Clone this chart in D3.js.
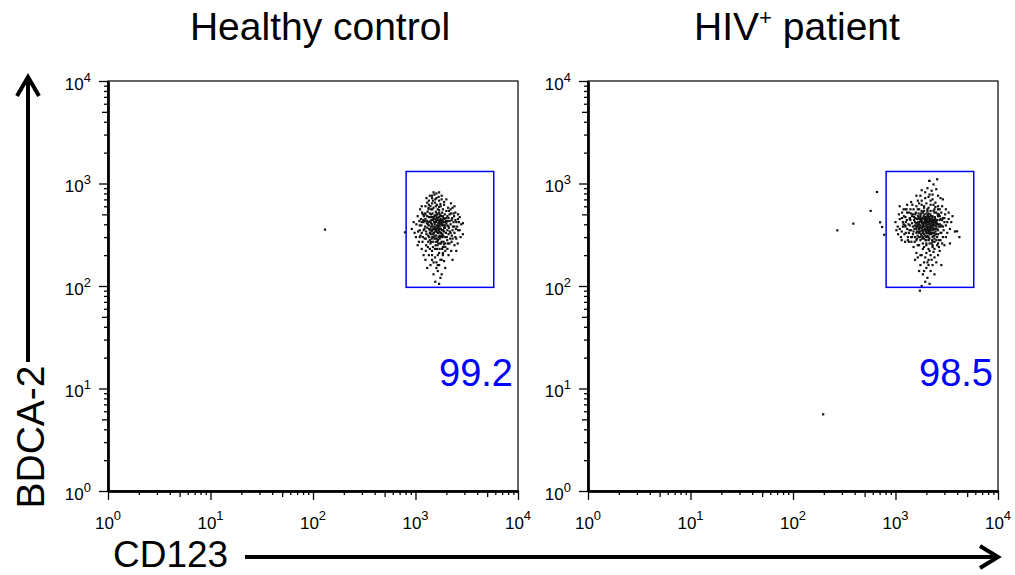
<!DOCTYPE html>
<html>
<head>
<meta charset="utf-8">
<script src="https://cdn.jsdelivr.net/npm/d3@7"></script>
<style>
  body { margin: 0; background: #fff; }
  text { font-family: "Liberation Sans", Arial, sans-serif; }
</style>
</head>
<body>
<div id="chart"></div>
<script>
// --- data ---
const panelTitles = ['Healthy control', 'HIV'];
const gatePercents = ['99.2', '98.5'];
const gateX = [810, 5800];
const gateY = [97, 1310];
const majorTicks = [1, 10, 100, 1000, 10000];
const tickExponents = ['0', '1', '2', '3', '4'];
const midTicks = [5, 50, 500, 5000];
const minorTicks = [2, 3, 4, 6, 7, 8, 9, 20, 30, 40, 60, 70, 80, 90,
  200, 300, 400, 600, 700, 800, 900, 2000, 3000, 4000, 6000, 7000, 8000, 9000];

// [CD123, BDCA-2] events, healthy control
const healthyEvents = [
  [131,355],[790,334],
  [1420,380],[1550,420],[1680,350],[1800,310],[1500,300],[1610,460],[1730,400],[1380,330],[1900,370],[1470,510],
  [1590,270],[1650,330],[1720,290],[1840,440],[1360,420],[1520,360],[1780,480],[1950,300],[1440,290],[1620,390],
  [1700,520],[1560,340],[1480,440],[1820,350],[1660,280],[2000,410],[1400,360],[1750,330],[1530,480],[1880,270],
  [1600,310],[1690,430],[1450,400],[1810,390],[1570,250],[1740,360],[1920,450],[1390,470],[1640,370],[1510,330],
  [1770,300],[1870,420],[1460,350],[1630,500],[1710,340],[1540,400],[2050,350],[1350,390],[1830,320],[1580,440],
  [1670,410],[1490,270],[1950,390],[1410,320],[1760,450],[1600,360],[1690,300],[1850,480],[1530,290],[1720,380],
  [1980,330],[1430,440],[1650,460],[1790,410],[1560,370],[1380,280],[1900,340],[1620,290],[1700,470],[1470,380],
  [1840,300],[1590,420],[1740,260],[2100,380],[1500,460],[1660,330],[1820,430],[1440,340],[1610,510],[1770,360],
  [1360,360],[1930,420],[1540,310],[1680,390],[1860,350],[1420,500],[1630,270],[1730,440],[1580,350],[2020,300],
  [1480,320],[1710,410],[1800,270],[1400,430],[1650,380],[1550,450],[1890,390],[1460,300],[1750,490],[1610,340],
  [1320,400],[1970,460],[1520,420],[1690,360],[1830,400],[1570,290],[1440,470],[1780,330],[1640,440],[2060,430],
  [1490,360],[1720,310],[1600,480],[1860,310],[1380,350],[1670,260],[1540,380],[1940,370],[1420,410],[1760,420],
  [920,360],[960,420],[1010,300],[1050,480],[1100,390],[980,330],[1130,450],[1080,270],[1160,520],[1020,400],
  [1200,350],[1250,600],[1180,300],[1110,560],[1230,430],[1270,250],[1060,340],[1150,230],[1300,650],[1210,480],
  [1280,720],[1340,580],[1450,640],[1560,700],[1380,760],[1620,620],[1500,580],[1700,680],[1760,600],[1850,560],
  [1420,560],[1580,600],[1680,740],[1530,780],[1900,620],[2000,540],[2150,500],[2250,440],[2400,380],[2200,330],
  [2300,290],[2100,460],[2500,420],[2350,510],[2600,350],[2800,400],[2150,260],[2450,300],[2080,580],[2220,640],
  [2700,470],[2900,320],[2050,230],[1950,220],[1850,200],[1700,210],[1550,190],[1450,220],[1350,200],[1250,180],
  [1400,160],[1600,170],[1800,180],[1950,150],[1650,140],[1500,130],[1750,120],[1300,150],[1850,240],[1720,230],
  [1480,240],[1620,230],[1380,230],[1900,255],[2100,200],[1200,200],[1560,110],[1700,105],[1800,130],[2300,180],
  [2500,220],[1650,160],[1450,180],[1900,175],[1330,270],[1280,320],[1240,380],[1150,420],[2600,500],[2200,560],
  [1350,680],[1450,720],[1600,800],[1800,760],[1500,820],[2000,700],[1250,500],[1300,480],[1150,330],[2400,600],
  [1050,250],[1120,310],[1190,440],[1260,290],[1310,530],[1220,360],[1140,390],[1290,410],[1330,310],[1250,450],
  [1090,430],[1170,270],[1240,510],[1320,240],[1300,370],[1200,420],[1270,340],[1100,350],[1350,470],[1230,290],
  [2100,320],[2200,400],[2300,350],[2150,430],[2250,270],[2050,480],[2350,420],[2180,290],[2280,460],[2120,370],
  [2400,330],[2220,510],[2080,260],[2320,380],[2160,340],[2450,440],[2050,390],[2260,310],[2380,480],[2120,540],
  [2550,380],[2650,420],[2500,290],[2700,350],[2600,450],[2480,360],[2750,300],[2580,260],[2900,410],[2450,520],
  [1400,600],[1550,650],[1700,590],[1480,680],[1650,560],[1800,700],[1350,620],[1900,660],[1600,720],[1750,630],
  [1450,200],[1550,230],[1650,200],[1750,180],[1500,170],[1600,150],[1700,160],[1850,210],[1400,260],[1950,240],
  [1300,430],[1380,510],[1460,560],[1580,530],[1700,550],[1820,520],[1930,500],[2000,460],[1960,260],[1820,230],
  [1360,300],[1420,270],[1480,470],[1560,490],[1640,250],[1720,500],[1780,260],[1870,460],[1990,430],[2040,280],
  [1100,300],[1180,500],[1260,220],[1340,560],[2230,220],[2400,250],[2300,580],[1150,600],[1450,760],[1700,820]
];

// [CD123, BDCA-2] events, HIV+ patient
const hivEvents = [
  [197,5.6],[271,349],[388,406],[572,540],[660,826],[708,418],[741,376],[776,316],[1730,90],
  [2130,1060],[2550,1100],[3990,342],
  [1850,380],[2000,420],[2150,350],[1700,330],[2300,400],[1950,470],[2100,300],[1800,440],[2400,360],[1650,390],
  [2050,360],[2200,450],[1900,320],[2350,310],[1750,490],[2000,280],[2150,410],[1600,360],[2500,430],[1880,400],
  [2250,370],[1980,340],[1720,420],[2100,510],[2400,290],[1820,290],[2050,440],[1550,420],[2300,480],[1930,380],
  [2180,330],[1680,460],[2450,390],[1870,350],[2020,400],[2280,280],[1780,370],[2120,470],[1640,310],[2380,440],
  [1960,430],[2230,320],[1740,340],[2060,380],[2550,360],[1840,460],[2140,290],[1920,500],[2330,350],[1700,400],
  [2000,330],[2200,390],[1800,310],[2420,420],[1900,450],[2080,350],[1620,450],[2260,430],[1990,300],[2160,380],
  [1760,430],[2350,390],[1860,330],[2040,480],[2480,320],[1700,360],[2110,420],[1940,360],[2300,300],[1820,410],
  [2190,500],[1580,380],[2050,310],[2420,470],[1880,480],[2000,390],[2240,350],[1730,300],[2140,440],[1960,280],
  [2600,400],[1800,350],[2070,330],[2320,420],[1660,420],[2180,360],[1920,410],[2460,340],[1850,300],[2020,460],
  [2270,390],[1760,390],[2110,280],[1940,440],[2380,330],[1690,340],[2060,420],[2210,480],[1830,370],[2500,380],
  [1970,350],[2150,320],[1640,400],[2290,460],[1890,420],[2030,370],[2400,310],[1780,450],[2120,400],[1950,310],
  [2250,410],[1710,380],[2080,490],[1860,390],[2340,370],[2000,440],[1620,340],[2170,340],[1920,350],[2440,450],
  [1810,420],[2090,370],[2280,330],[1750,470],[2040,300],[1980,410],[2200,430],[1680,370],[2360,400],[1900,290],
  [2130,460],[1840,340],[2520,410],[2010,510],[1770,320],[2230,380],[1960,460],[2100,340],[1590,410],[2310,440],
  [1000,420],[1050,380],[1100,450],[1150,340],[1080,500],[1200,400],[1250,470],[1130,300],[1300,360],[1350,520],
  [1220,320],[1400,440],[1280,560],[1180,380],[1450,300],[1320,280],[1020,350],[1380,390],[1480,500],[1260,420],
  [1420,350],[1160,460],[1500,560],[1350,330],[1060,320],[1240,270],[1430,270],[1550,300],[1460,620],[1600,600],
  [1700,560],[1800,620],[1650,680],[1900,580],[2000,640],[2100,580],[2200,620],[2400,560],[2300,700],[1950,720],
  [1750,760],[2150,780],[2250,850],[2050,900],[2450,650],[2600,560],[2800,520],[3000,460],[2700,440],[2900,380],
  [3200,420],[2750,330],[3100,300],[2650,280],[3400,360],[3600,480],[2850,600],[2550,250],[3000,250],[2700,220],
  [2300,240],[2100,230],[1900,240],[1700,250],[1500,240],[2000,210],[2200,200],[1800,200],[2400,190],[1600,210],
  [2100,180],[1900,170],[2300,160],[2000,150],[1750,160],[2200,140],[2500,170],[1850,130],[2050,120],[2400,130],
  [1950,110],[2150,105],[1700,140],[2600,200],[2250,260],[1650,190],[2800,160],[1800,100],[2350,215],[1550,180],
  [3400,260],[3800,340],[4200,300],[3300,520],[2900,700],[2600,760],[2350,980],[2150,1060],[1800,860],[1600,760],
  [1420,660],[1300,620],[1200,560],[1100,600],[3100,560],[3500,420],[2750,720],[2500,880],[1850,520],[2600,480],
  [1250,380],[1380,460],[1480,380],[1520,440],[1420,510],[1560,500],[2750,380],[2850,440],[2600,320],[1530,360],
  [1100,360],[1180,420],[1260,330],[1340,400],[1420,300],[1210,480],[1290,440],[1370,350],[1450,410],[1150,280],
  [1500,340],[1560,460],[1620,290],[1580,520],[1650,250],[1520,470],[1680,510],[1610,380],[1540,270],[1700,450],
  [2600,350],[2700,400],[2800,330],[2900,460],[2650,500],[2750,280],[2550,440],[2950,350],[3100,390],[2850,260],
  [3000,420],[2700,560],[2600,600],[3200,330],[2800,390],[2500,520],[2650,240],[3300,450],[2900,300],[3050,500],
  [1900,600],[2050,560],[2200,680],[2350,620],[1800,680],[2100,740],[2450,590],[1700,640],[1950,820],[2300,780],
  [1850,230],[2000,250],[2150,220],[2300,270],[1950,190],[2250,180],[2050,170],[2400,230],[1750,200],[2500,280],
  [1300,520],[1400,560],[1350,270],[1250,560],[1450,480],[1480,320],[1380,450],[1160,520],[1240,390],[1320,300],
  [2200,540],[2400,520],[2550,400],[2050,540],[1800,540],[1650,560],[2700,480],[2350,540],[2450,360],[2550,300],
  [1750,280],[1850,260],[2000,260],[2150,260],[2300,250],[2400,270],[1600,280],[2600,260],[2100,160],[1900,140],
  [1700,300],[1600,330],[1550,390],[1660,480],[1780,510],[1900,540],[2650,380],[2750,450],[2480,410],[2580,500]
];

// --- drawing ---
const width = 1015;
const height = 575;
const size = 410;
const plotTop = 81;
const panelLeft = [108, 588];
const titleX = [320, 797];
const panelEvents = [healthyEvents, hivEvents];

const svg = d3.select('#chart').append('svg')
  .attr('width', width)
  .attr('height', height);

const x = d3.scaleLog().domain([1, 1e4]).range([0, size]);
const y = d3.scaleLog().domain([1, 1e4]).range([size, 0]);

// panel titles
panelTitles.forEach((t, i) => {
  const title = svg.append('text')
    .attr('x', titleX[i])
    .attr('y', 40)
    .attr('text-anchor', 'middle')
    .attr('font-size', 39)
    .text(t);
  if (i === 1) {
    title.append('tspan').attr('font-size', 22).attr('dy', -15).text('+');
    title.append('tspan').attr('dy', 15).text(' patient');
  }
});

panelLeft.forEach((left, i) => {
  const g = svg.append('g').attr('transform', `translate(${left},${plotTop})`);

  // frame
  g.append('rect')
    .attr('width', size).attr('height', size)
    .attr('fill', 'none').attr('stroke', '#000').attr('stroke-width', 1.2);

  const tickSets = [[minorTicks, 4], [midTicks, 6], [majorTicks, 9]];
  tickSets.forEach(([vals, len]) => {
    g.append('g').attr('class', 'axis')
      .attr('transform', `translate(0,${size})`)
      .call(d3.axisBottom(x).tickValues(vals).tickSize(len).tickSizeOuter(0).tickFormat(''));
    g.append('g').attr('class', 'axis')
      .call(d3.axisLeft(y).tickValues(vals).tickSize(len).tickSizeOuter(0).tickFormat(''));
  });
  g.selectAll('.axis .domain').attr('stroke-width', 2);
  g.selectAll('.axis line').attr('stroke-width', 1.3);

  // tick labels 10^n
  majorTicks.forEach((m, k) => {
    const tx = g.append('text')
      .attr('x', x(m)).attr('y', size + 38)
      .attr('text-anchor', 'middle').attr('font-size', 17);
    tx.append('tspan').text('10');
    tx.append('tspan').attr('font-size', 13).attr('dy', -9).text(tickExponents[k]);

    const ty = g.append('text')
      .attr('x', -17).attr('y', y(m) + 8.5)
      .attr('text-anchor', 'end').attr('font-size', 17);
    ty.append('tspan').text('10');
    ty.append('tspan').attr('font-size', 13).attr('dy', -8).text(tickExponents[k]);
  });

  // events
  g.selectAll('.event')
    .data(panelEvents[i])
    .enter()
    .append('rect')
    .attr('class', 'event')
    .attr('x', d => x(d[0]) - 1.1)
    .attr('y', d => y(d[1]) - 1.1)
    .attr('width', 2.2)
    .attr('height', 2.2)
    .attr('fill', '#111');

  // gate
  g.append('rect')
    .attr('x', x(gateX[0])).attr('y', y(gateY[1]))
    .attr('width', x(gateX[1]) - x(gateX[0]))
    .attr('height', y(gateY[0]) - y(gateY[1]))
    .attr('fill', 'none').attr('stroke', '#0000ff').attr('stroke-width', 1.5);

  g.append('text')
    .attr('x', size - 5).attr('y', 305)
    .attr('text-anchor', 'end')
    .attr('font-size', 38)
    .attr('fill', '#0000ff')
    .text(gatePercents[i]);
});

// axis titles with arrows
svg.append('text')
  .attr('transform', 'translate(44,437) rotate(-90)')
  .attr('text-anchor', 'middle')
  .attr('font-size', 39)
  .text('BDCA-2');

svg.append('line')
  .attr('x1', 28).attr('x2', 28).attr('y1', 362).attr('y2', 78)
  .attr('stroke', '#000').attr('stroke-width', 4);
svg.append('path')
  .attr('d', 'M17,96L28,77L39,96')
  .attr('fill', 'none').attr('stroke', '#000').attr('stroke-width', 4);

svg.append('text')
  .attr('x', 113).attr('y', 567)
  .attr('font-size', 37)
  .text('CD123');

svg.append('line')
  .attr('x1', 245).attr('x2', 997).attr('y1', 557).attr('y2', 557)
  .attr('stroke', '#000').attr('stroke-width', 4);
svg.append('path')
  .attr('d', 'M980,546L998,557L980,568')
  .attr('fill', 'none').attr('stroke', '#000').attr('stroke-width', 4);
</script>
</body>
</html>
